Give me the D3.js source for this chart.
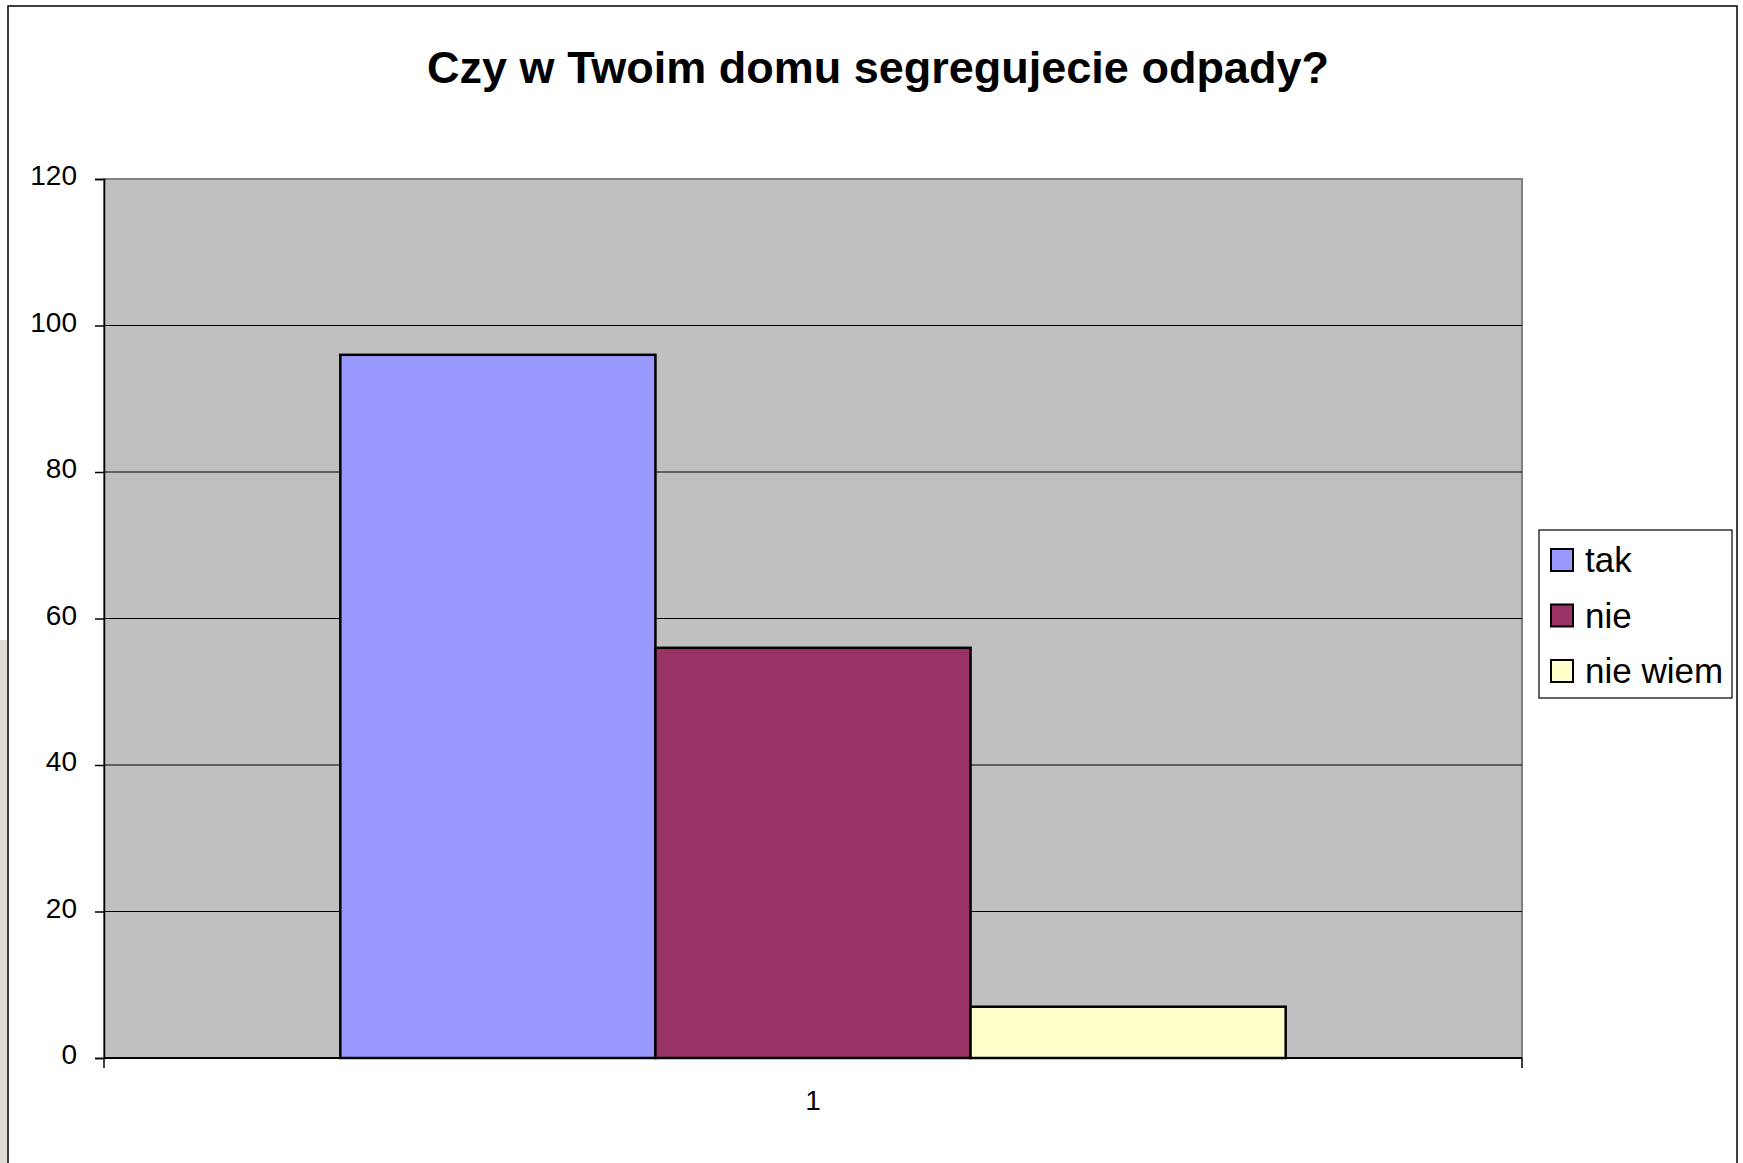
<!DOCTYPE html>
<html>
<head>
<meta charset="utf-8">
<script src="https://cdn.jsdelivr.net/npm/d3@7"></script>
<style>
  body { margin: 0; background: #fff; }
  svg { display: block; }
</style>
</head>
<body>
<script>
// chart data
var categories = ["1"];
var seriesNames = ["tak", "nie", "nie wiem"];
var seriesValues = [96, 56, 7];
var seriesColors = ["#9999FF", "#993366", "#FFFFCC"];
var yTicks = [0, 20, 40, 60, 80, 100, 120];
var title = "Czy w Twoim domu segregujecie odpady?";

var w = 1743;
var h = 1163;
var plot = { left: 104, right: 1522, top: 179, bottom: 1058 };

var svg = d3.select("body")
  .append("svg")
  .attr("width", w)
  .attr("height", h)
  .style("font-family", "'Liberation Sans', Arial, sans-serif");

// slide background peeking at the left edge
svg.append("rect")
  .attr("x", 0).attr("y", 640)
  .attr("width", 7).attr("height", h - 640)
  .attr("fill", "#dedcd0");

// outer chart frame
svg.append("rect")
  .attr("x", 8).attr("y", 6)
  .attr("width", 1729).attr("height", h + 20)
  .attr("fill", "#fff")
  .attr("stroke", "#000")
  .attr("stroke-width", 1.5);

// title
svg.append("text")
  .attr("x", 878)
  .attr("y", 83)
  .attr("text-anchor", "middle")
  .attr("font-size", "45px")
  .attr("font-weight", "bold")
  .attr("fill", "#000")
  .text(title);

var yScale = d3.scaleLinear()
  .domain([0, 120])
  .range([plot.bottom, plot.top]);

var x0 = d3.scaleBand()
  .domain(categories)
  .range([plot.left, plot.right])
  .paddingInner(0)
  .paddingOuter(0.25);

var x1 = d3.scaleBand()
  .domain(seriesNames)
  .range([0, x0.bandwidth()]);

// plot area
svg.append("rect")
  .attr("x", plot.left)
  .attr("y", plot.top)
  .attr("width", plot.right - plot.left)
  .attr("height", plot.bottom - plot.top)
  .attr("fill", "#C0C0C0")
  .attr("stroke", "#808080")
  .attr("stroke-width", 2);

// gridlines
svg.append("g")
  .selectAll("line")
  .data(yTicks.filter(function(d) { return d > 0 && d < 120; }))
  .enter()
  .append("line")
  .attr("x1", plot.left)
  .attr("x2", plot.right)
  .attr("y1", function(d) { return yScale(d); })
  .attr("y2", function(d) { return yScale(d); })
  .attr("stroke", "#000")
  .attr("stroke-width", 1.2);

// bars
var data = seriesNames.map(function(name, i) {
  return { category: categories[0], name: name, value: seriesValues[i], color: seriesColors[i] };
});

svg.append("g")
  .selectAll("rect")
  .data(data)
  .enter()
  .append("rect")
  .attr("x", function(d) { return x0(d.category) + x1(d.name); })
  .attr("y", function(d) { return yScale(d.value); })
  .attr("width", x1.bandwidth())
  .attr("height", function(d) { return yScale(0) - yScale(d.value); })
  .attr("fill", function(d) { return d.color; })
  .attr("stroke", "#000")
  .attr("stroke-width", 2.5);

// y axis
var yAxis = svg.append("g")
  .attr("transform", "translate(" + plot.left + ",0)")
  .call(d3.axisLeft(yScale)
    .tickValues(yTicks)
    .tickSize(9)
    .tickPadding(18));
yAxis.select(".domain").attr("stroke", "#000").attr("stroke-width", 1.5);
yAxis.selectAll(".tick line").attr("stroke", "#000").attr("stroke-width", 1.5);
yAxis.selectAll(".tick text")
  .attr("font-size", "28px")
  .attr("font-family", "'Liberation Sans', Arial, sans-serif")
  .attr("fill", "#000")
  .attr("dy", "0.2em");

// x axis
var xAxis = svg.append("g")
  .attr("transform", "translate(0," + plot.bottom + ")")
  .call(d3.axisBottom(x0).tickSize(0).tickPadding(32));
xAxis.select(".domain").remove();
xAxis.append("line")
  .attr("x1", plot.left).attr("x2", plot.right)
  .attr("y1", 0).attr("y2", 0)
  .attr("stroke", "#000").attr("stroke-width", 2);
xAxis.selectAll(".edge")
  .data([plot.left, plot.right])
  .enter()
  .append("line")
  .attr("class", "edge")
  .attr("x1", function(d) { return d; })
  .attr("x2", function(d) { return d; })
  .attr("y1", 0).attr("y2", 10)
  .attr("stroke", "#000").attr("stroke-width", 1.5);
xAxis.selectAll(".tick text")
  .attr("font-size", "28px")
  .attr("font-family", "'Liberation Sans', Arial, sans-serif")
  .attr("fill", "#000");

// legend
var legend = svg.append("g");
legend.append("rect")
  .attr("x", 1539).attr("y", 530)
  .attr("width", 193).attr("height", 168)
  .attr("fill", "#fff")
  .attr("stroke", "#000")
  .attr("stroke-width", 1.2);

var items = legend.selectAll(".item")
  .data(data)
  .enter()
  .append("g")
  .attr("class", "item")
  .attr("transform", function(d, i) { return "translate(0," + (560 + i * 55.5) + ")"; });

items.append("rect")
  .attr("x", 1551).attr("y", -11)
  .attr("width", 22).attr("height", 22)
  .attr("fill", function(d) { return d.color; })
  .attr("stroke", "#000")
  .attr("stroke-width", 2);

items.append("text")
  .attr("x", 1585)
  .attr("y", 12)
  .attr("font-size", "35px")
  .attr("fill", "#000")
  .text(function(d) { return d.name; });
</script>
</body>
</html>
